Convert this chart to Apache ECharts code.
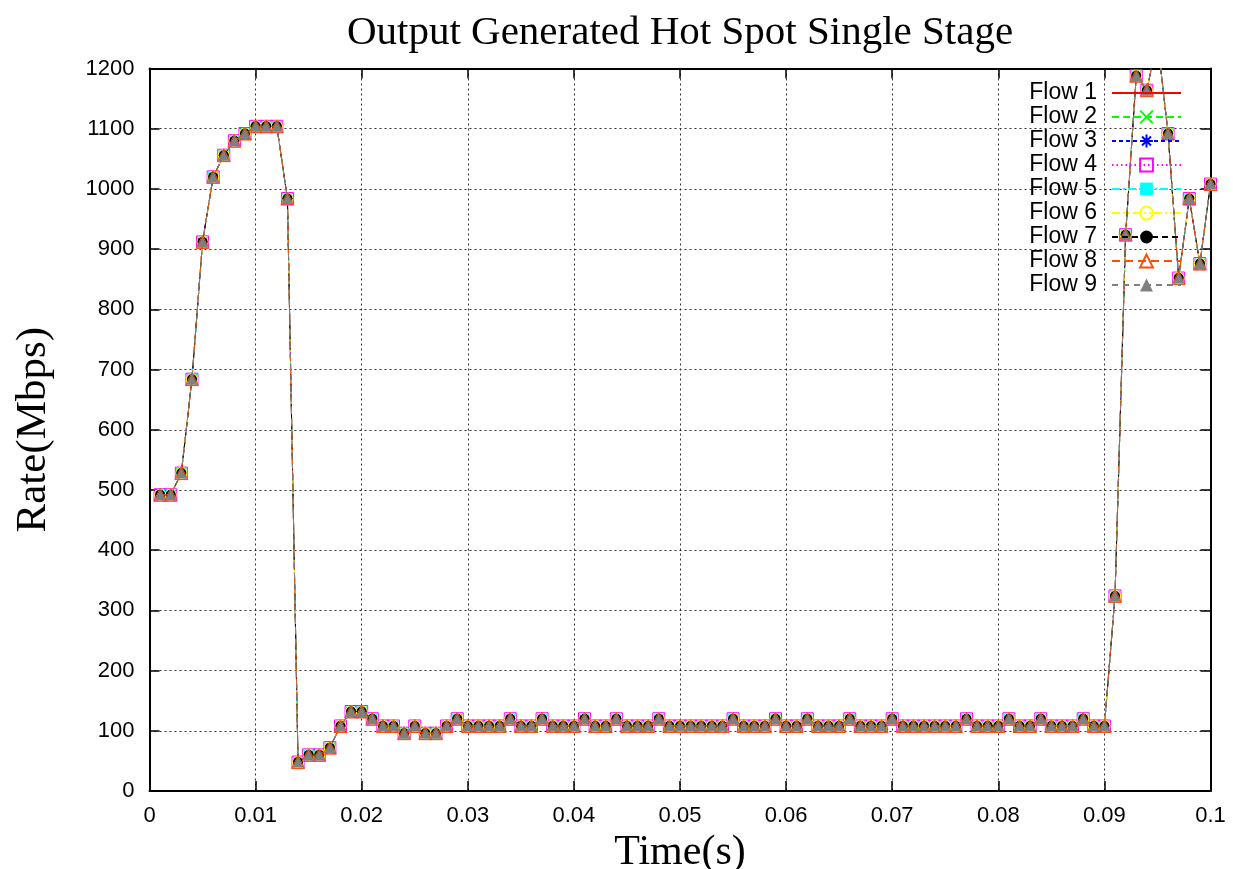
<!DOCTYPE html>
<html><head><meta charset="utf-8">
<script src="https://cdn.jsdelivr.net/npm/echarts@6/dist/echarts.min.js"></script>
<style>html,body{margin:0;padding:0;background:#fff}#c{width:1233px;height:869px}</style>
</head><body><div id="c"></div>
<script>
const times = [
 0.001,0.002,0.003,0.004,0.005,0.006,0.007,0.008,0.009,0.010,
 0.011,0.012,0.013,0.014,0.015,0.016,0.017,0.018,0.019,0.020,
 0.021,0.022,0.023,0.024,0.025,0.026,0.027,0.028,0.029,0.030,
 0.031,0.032,0.033,0.034,0.035,0.036,0.037,0.038,0.039,0.040,
 0.041,0.042,0.043,0.044,0.045,0.046,0.047,0.048,0.049,0.050,
 0.051,0.052,0.053,0.054,0.055,0.056,0.057,0.058,0.059,0.060,
 0.061,0.062,0.063,0.064,0.065,0.066,0.067,0.068,0.069,0.070,
 0.071,0.072,0.073,0.074,0.075,0.076,0.077,0.078,0.079,0.080,
 0.081,0.082,0.083,0.084,0.085,0.086,0.087,0.088,0.089,0.090,
 0.091,0.092,0.093,0.094,0.095,0.096,0.097,0.098,0.099,0.100
];
// All nine flows carry the same rate (Mbps) in the reference
const rates = [
 492,492,528,684,912,1020,1056,1080,1092,1104,
 1104,1104,984,48,60,60,72,108,132,132,
 120,108,108,96,108,96,96,108,120,108,
 108,108,108,120,108,108,120,108,108,108,
 120,108,108,120,108,108,108,120,108,108,
 108,108,108,108,120,108,108,108,120,108,
 108,120,108,108,108,120,108,108,108,120,
 108,108,108,108,108,108,120,108,108,108,
 120,108,108,120,108,108,108,120,108,108,
 324,924,1188,1164,1248,1092,852,984,876,1008
];
const flowNames = ['Flow 1','Flow 2','Flow 3','Flow 4','Flow 5','Flow 6','Flow 7','Flow 8','Flow 9'];
const xTickLabels = ['0','0.01','0.02','0.03','0.04','0.05','0.06','0.07','0.08','0.09','0.1'];
const yTickLabels = ['0','100','200','300','400','500','600','700','800','900','1000','1100','1200'];

const styles = [
 {color:'#ff0000', dash:'solid', symbol:'none', size:0},
 {color:'#00ff00', dash:[7,4], symbol:'path://M0,0L10,10M10,0L0,10', size:10, hollow:true},
 {color:'#0000ff', dash:[4,3], symbol:'path://M0,5L10,5M5,0L5,10M1.5,1.5L8.5,8.5M8.5,1.5L1.5,8.5', size:11, hollow:true},
 {color:'#ff00ff', dash:[1.5,3], symbol:'rect', size:12, hollow:true},
 {color:'#00ffff', dash:[8,3,2,3], symbol:'rect', size:10},
 {color:'#ffff00', dash:[8,3,2,3,2,3], symbol:'circle', size:11, hollow:true},
 {color:'#000000', dash:[6,4], symbol:'circle', size:10},
 {color:'#ff4d00', dash:[8,5], symbol:'triangle', size:13, hollow:true},
 {color:'#808080', dash:[6,5], symbol:'triangle', size:11}
];

const sans = 'Liberation Sans, Arial, sans-serif';
const serif = 'Liberation Serif, Times New Roman, serif';

const chart = echarts.init(document.getElementById('c'), null, {renderer:'canvas'});
const boxAxis = {
  axisLine:{show:true, onZero:false, lineStyle:{color:'#000', width:2}},
  axisTick:{show:true, inside:true, length:10, lineStyle:{color:'#000', width:1.5}}
};
chart.setOption({
  animation:false,
  backgroundColor:'#fff',
  title:{
    text:'Output Generated Hot Spot Single Stage',
    left:675, top:8, textAlign:'center',
    textStyle:{fontFamily:serif, fontSize:41, fontWeight:'normal', color:'#000'}
  },
  grid:{left:149.5, top:68.5, right:22.5, bottom:78, containLabel:false, outerBoundsMode:'none'},
  legend:{
    orient:'vertical', right:51, top:81.5, padding:0, align:'right',
    itemWidth:69, itemHeight:16, itemGap:1, selectedMode:false,
    textStyle:{fontFamily:sans, fontSize:23, color:'#000', padding:[0,10,0,0]},
    data: flowNames.map((n,i)=> i===0 ? {name:n, itemStyle:{color:'rgba(0,0,0,0)', borderColor:'rgba(0,0,0,0)', borderWidth:0}} : {name:n})
  },
  xAxis:[
    Object.assign({
      type:'value', min:0, max:0.1, interval:0.01, position:'bottom',
      axisLabel:{fontFamily:sans, fontSize:22, color:'#000', margin:14,
        formatter:(v)=> xTickLabels[Math.round(v/0.01)]},
      splitLine:{show:true, lineStyle:{color:'#333', type:[2,3], width:1}},
      name:'Time(s)', nameLocation:'middle', nameGap:37,
      nameTextStyle:{fontFamily:serif, fontSize:42, color:'#000'}
    }, boxAxis),
    Object.assign({
      type:'value', min:0, max:0.1, interval:0.01, position:'top',
      axisLabel:{show:false}, splitLine:{show:false}
    }, boxAxis)
  ],
  yAxis:[
    Object.assign({
      type:'value', min:0, max:1200, interval:100, position:'left',
      axisLabel:{fontFamily:sans, fontSize:22, color:'#000', margin:15,
        formatter:(v)=> yTickLabels[Math.round(v/100)]},
      splitLine:{show:true, lineStyle:{color:'#333', type:[2,3], width:1}},
      name:'Rate(Mbps)', nameLocation:'middle', nameGap:94,
      nameTextStyle:{fontFamily:serif, fontSize:43, color:'#000'}
    }, boxAxis),
    Object.assign({
      type:'value', min:0, max:1200, interval:100, position:'right',
      axisLabel:{show:false}, splitLine:{show:false}
    }, boxAxis)
  ],
  series: flowNames.map((name,i)=>{
    const st = styles[i];
    return {
      name, type:'line', xAxisIndex:0, yAxisIndex:0,
      data: times.map((t,j)=>[t, rates[j]]),
      symbol: st.symbol, symbolSize: st.size, showSymbol: st.symbol !== 'none',
      showAllSymbol:true, clip:true,
      lineStyle:{color:st.color, width:1, type:st.dash},
      itemStyle:{color: st.hollow ? 'rgba(0,0,0,0)' : st.color, borderColor:st.color, borderWidth: st.hollow ? 1 : 0},
      emphasis:{disabled:true},
      z: 2 + i * 0.01
    };
  })
});
</script>
</body></html>
